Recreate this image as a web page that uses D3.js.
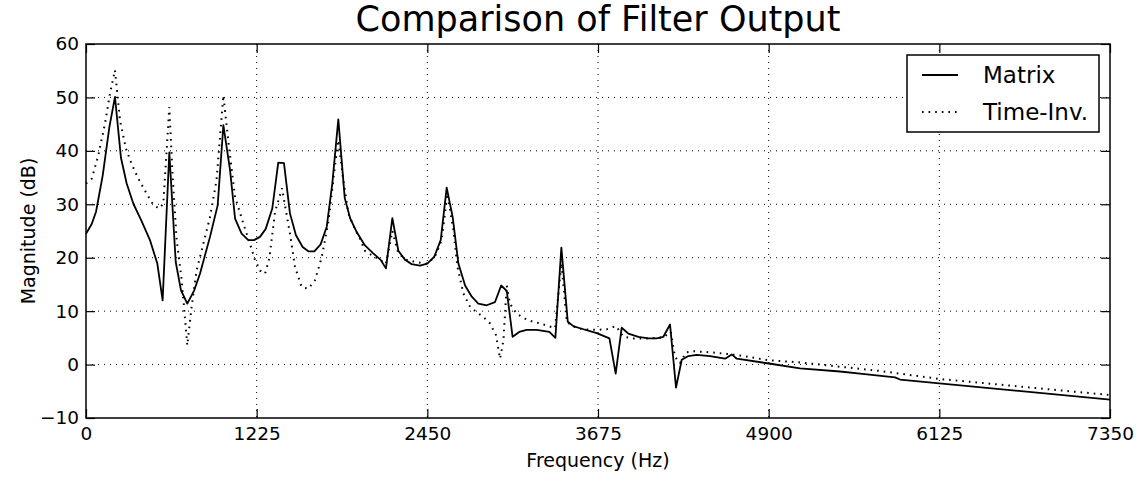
<!DOCTYPE html>
<html>
<head>
<meta charset="utf-8">
<script src="https://cdn.jsdelivr.net/npm/d3@7"></script>
<style>
  body { margin: 0; background: #fff; }
  text { font-family: "DejaVu Sans", sans-serif; fill: #000; }
</style>
</head>
<body>
<div id="chart"></div>
<script>
// values
var matrixFreq = [0,41,72,120,168,208,251,292,340,400,459,512,550,598,644,682,727,777,818,890,945,986,1034,1070,1117,1165,1206,1249,1290,1337,1380,1421,1464,1507,1555,1596,1639,1684,1728,1768,1811,1857,1897,1943,2002,2062,2115,2153,2199,2242,2290,2337,2397,2450,2500,2546,2589,2632,2673,2721,2769,2816,2876,2936,2980,3020,3062,3110,3163,3235,3326,3369,3412,3458,3498,3546,3666,3757,3802,3845,3893,3965,4037,4096,4144,4192,4235,4276,4324,4383,4479,4587,4635,4671,4902,5125,5412,5556,5807,5843,7350];
var matrixDb = [24.5,26.3,28.6,35.4,44.5,50.1,38.7,33.9,30.1,26.8,23.3,18.9,12.0,39.7,19.2,13.9,11.4,13.9,17.0,23.9,29.8,44.8,36.4,27.3,24.5,23.3,23.3,23.9,25.4,29.2,37.8,37.7,28.3,24.2,22.0,21.2,21.2,22.5,25.8,33.9,45.9,31.2,27.3,24.8,22.3,20.8,19.6,18.0,27.4,21.3,19.6,18.8,18.5,18.9,20.2,23.3,33.1,27.6,18.9,14.8,12.7,11.4,11.1,11.7,14.8,13.8,5.2,6.1,6.5,6.5,6.1,5.0,21.9,8.0,7.2,6.8,5.9,4.9,-1.7,6.9,5.8,5.2,4.9,4.9,5.2,7.5,-4.3,0.9,1.6,1.8,1.6,1.1,1.9,1.1,0.2,-0.7,-1.3,-1.7,-2.4,-2.8,-6.55];

var timeInvFreq = [0,41,89,136,172,208,244,287,328,376,435,483,524,555,598,622,651,687,727,758,794,842,890,937,986,1026,1070,1129,1177,1213,1249,1285,1316,1357,1407,1464,1500,1548,1596,1644,1692,1740,1783,1811,1847,1883,1931,1967,2002,2062,2110,2153,2199,2242,2302,2386,2450,2505,2553,2594,2637,2666,2709,2757,2805,2852,2900,2943,2972,2996,3020,3043,3091,3151,3199,3259,3319,3367,3412,3451,3498,3570,3666,3738,3805,3857,3929,4049,4144,4197,4228,4264,4307,4360,4479,4599,4695,4902,5125,5412,5556,5699,6130,7350];
var timeInvDb = [33.9,34.8,39.2,45.1,50.7,55.1,45.7,40.4,37.5,34.8,32.0,29.9,29.2,30.1,48.2,35.1,23.3,15.8,3.6,10.8,17.6,22.6,27.6,34.5,50.4,40.7,31.4,26.4,22.6,19.6,17.6,17.0,19.9,28.6,33.0,24.5,18.3,14.5,14.2,15.8,20.1,26.7,36.4,42.0,34.5,28.3,25.3,23.5,21.3,20.3,19.6,18.8,25.0,20.8,19.6,19.1,18.9,20.2,23.3,32.0,25.2,18.3,13.3,10.8,9.8,8.9,7.7,5.5,1.1,4.5,14.8,11.4,9.5,8.6,8.1,7.7,7.2,6.8,19.0,8.0,7.1,6.6,6.5,6.6,7.2,5.2,4.9,4.9,5.1,6.1,1.4,0.3,2.3,2.5,2.3,2.0,1.7,0.8,0.4,-0.4,-0.8,-1.2,-2.7,-5.7];

var xTicks = [0,1225,2450,3675,4900,6125,7350];
var yTicks = [-10,0,10,20,30,40,50,60];
var seriesNames = ["Matrix","Time-Inv."];

var W = 1145, H = 478;
var margin = {top: 44, right: 35, bottom: 60, left: 86},
    width = W - margin.left - margin.right,
    height = H - margin.top - margin.bottom;

var svg = d3.select("#chart")
  .append("svg")
  .attr("width", W)
  .attr("height", H)
  .style("display","block");

svg.append("rect").attr("width", W).attr("height", H).attr("fill","#fff");

var g = svg.append("g")
  .attr("transform","translate(" + margin.left + "," + margin.top + ")");

var x = d3.scaleLinear().domain([0,7350]).range([0,width]);
var y = d3.scaleLinear().domain([-10,60]).range([height,0]);

var dotted = "1.6,5";

// grid lines (dotted, like matplotlib classic)
g.selectAll(".gx")
  .data(xTicks.slice(1,-1))
  .enter().append("line")
    .attr("x1", function(d){ return x(d); })
    .attr("x2", function(d){ return x(d); })
    .attr("y1", 0).attr("y2", height)
    .attr("stroke","#000").attr("stroke-width",1)
    .attr("stroke-dasharray","1,5");
g.selectAll(".gy")
  .data(yTicks.slice(1,-1))
  .enter().append("line")
    .attr("y1", function(d){ return y(d); })
    .attr("y2", function(d){ return y(d); })
    .attr("x1", 0).attr("x2", width)
    .attr("stroke","#000").attr("stroke-width",1)
    .attr("stroke-dasharray","1,5");

// the two curves
var matrixData = matrixFreq.map(function(f,i){ return [f, matrixDb[i]]; });
var timeInvData = timeInvFreq.map(function(f,i){ return [f, timeInvDb[i]]; });

var line = d3.line()
  .x(function(d){ return x(d[0]); })
  .y(function(d){ return y(d[1]); });

g.append("path")
  .datum(timeInvData)
  .attr("d", line)
  .attr("fill","none")
  .attr("stroke","#000")
  .attr("stroke-width",2)
  .attr("stroke-dasharray",dotted);

g.append("path")
  .datum(matrixData)
  .attr("d", line)
  .attr("fill","none")
  .attr("stroke","#000")
  .attr("stroke-width",1.8)
  .attr("stroke-linejoin","round");

// axes, ticks pointing inward on all four sides
var tickLen = 9;
var fs = "18.5px";
g.append("g")
  .attr("transform","translate(0," + height + ")")
  .call(d3.axisBottom(x).tickValues(xTicks).tickSize(-tickLen).tickPadding(9)
    .tickFormat(function(d){ return String(d); }));
g.append("g")
  .call(d3.axisTop(x).tickValues(xTicks).tickSize(-tickLen).tickFormat(""));
g.append("g")
  .call(d3.axisLeft(y).tickValues(yTicks).tickSize(-tickLen).tickPadding(7)
    .tickFormat(function(d){ return d < 0 ? "\u2212" + Math.abs(d) : String(d); }));
g.append("g")
  .attr("transform","translate(" + width + ",0)")
  .call(d3.axisRight(y).tickValues(yTicks).tickSize(-tickLen).tickFormat(""));

g.selectAll(".domain").remove();
g.selectAll(".tick line").attr("stroke","#000").attr("stroke-width",1.2);
g.selectAll(".tick text").style("font-size", fs).style("font-family","DejaVu Sans").attr("fill","#000");

// frame
g.append("rect")
  .attr("width", width).attr("height", height)
  .attr("fill","none").attr("stroke","#000").attr("stroke-width",1.5);

// title and labels
svg.append("text")
  .attr("x", margin.left + width/2).attr("y", 31)
  .attr("text-anchor","middle")
  .style("font-size","35px")
  .text("Comparison of Filter Output");
svg.append("text")
  .attr("x", margin.left + width/2).attr("y", 467)
  .attr("text-anchor","middle")
  .style("font-size","19px")
  .text("Frequency (Hz)");
svg.append("text")
  .attr("transform","translate(35," + (margin.top + height/2) + ") rotate(-90)")
  .attr("text-anchor","middle")
  .style("font-size","19px")
  .text("Magnitude (dB)");

// legend
var legend = svg.append("g");
legend.append("rect")
  .attr("x", 907).attr("y", 55).attr("width", 192).attr("height", 77)
  .attr("fill","#fff").attr("stroke","#000").attr("stroke-width",1.5);
var dashes = [null, dotted];
seriesNames.forEach(function(name, i){
  var ly = 75 + i*37;
  legend.append("line")
    .attr("x1", 922).attr("x2", 958).attr("y1", ly).attr("y2", ly)
    .attr("stroke","#000").attr("stroke-width", i ? 2 : 1.8)
    .attr("stroke-dasharray", dashes[i]);
  legend.append("text")
    .attr("x", 983).attr("y", ly + 8)
    .style("font-size","23px")
    .text(name);
});
</script>
</body>
</html>
